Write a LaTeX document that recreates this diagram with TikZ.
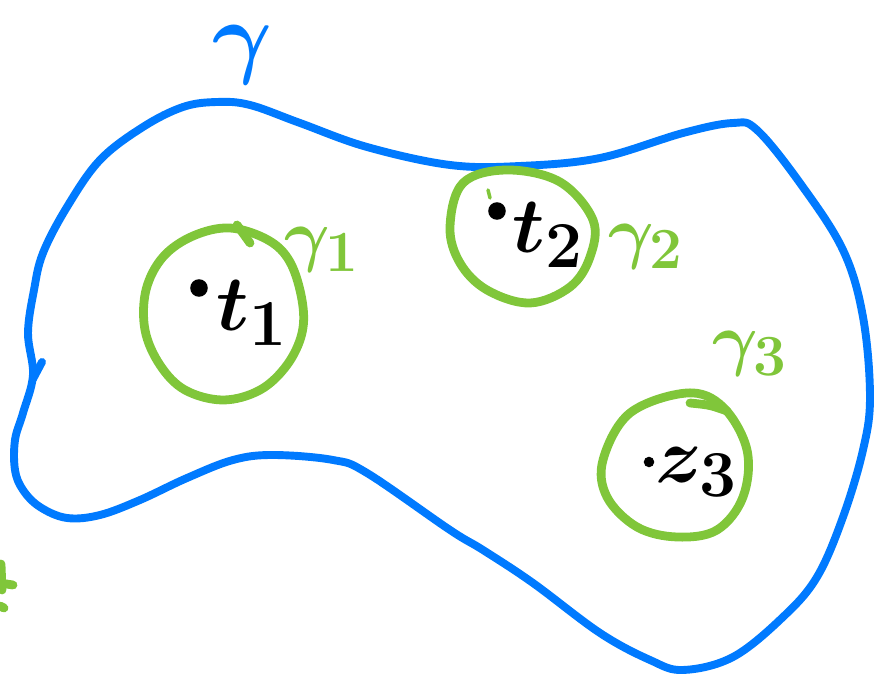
\documentclass[tikz,border=0pt]{standalone}
\usepackage{amsmath, amssymb}
\usepackage{tikz}
\usepackage{xcolor}
\usetikzlibrary{arrows.meta, positioning, calc}
\definecolor{penblue}{RGB}{0,122,255}
\definecolor{pengreen}{RGB}{128,198,58}

\begin{document}
\begin{tikzpicture}[x=0.02cm, y=-0.02cm,
    blueline/.style={draw=penblue, line width=4.5pt,
                     line cap=round, line join=round},
    greenline/.style={draw=pengreen, line width=5pt,
                      line cap=round, line join=round},
    lbl/.style={inner sep=0pt, font=\Huge},
    pt/.style={circle, fill=black, inner sep=0pt,
               minimum size=10pt}
]
    \useasboundingbox (0,0) rectangle (876,678);

    % outer contour
    \draw[blueline] plot[smooth cycle, tension=0.6] coordinates {
        (33,375) (28,333) (34,290) (43,253) (67,207) (100,160)
        (143,127) (183,107) (217,102) (250,105) (300,123)
        (367,147) (450,165) (520,166) (600,158) (683,133)
        (733,123) (757,130) (800,183) (843,250) (863,317)
        (870,397) (863,450) (843,517) (817,577) (783,617)
        (733,657) (683,670) (650,660) (600,633) (533,583)
        (483,550) (450,530) (367,473) (333,460) (273,455)
        (233,460) (187,478) (140,500) (100,515) (67,518)
        (40,507) (23,490) (15,470) (15,440) (23,413)};
    \coordinate (tickA) at (33,379);
    \coordinate (tickB) at (42,362);
    \draw[blueline] (tickA) -- (tickB);

    % small circles
    \draw[greenline] plot[smooth cycle, tension=0.6] coordinates {
        (230,228) (268,240) (290,262) (302,300) (302,333)
        (287,365) (260,390) (223,400) (185,390) (160,365)
        (145,330) (146,290) (163,257) (193,236)};
    \draw[greenline] (237,225) -- (250,243);

    \draw[greenline] plot[smooth cycle, tension=0.6] coordinates {
        (463,183) (507,170) (560,182) (593,220) (590,257)
        (570,287) (530,303) (487,290) (460,263) (450,227)};
    \draw[greenline, line width=2pt] (488,190) -- (490,198);

    \draw[greenline] plot[smooth cycle, tension=0.6] coordinates {
        (687,393) (723,407) (747,450) (743,497) (717,530)
        (677,537) (637,527) (607,497) (603,460) (630,413)};
    \draw[greenline] (690,403) .. controls (710,405) .. (727,411);

    % points
    \node[pt] (p1) at (199,288) {};
    \node[pt] (p2) at (497,211) {};
    \node[pt, minimum size=6pt] (p3) at (649,462) {};

    \node[lbl, scale=1.8] (t1) at (252,313) {$\boldsymbol{t_1}$};
    \node[lbl, scale=1.8] (t2) at (548,235) {$\boldsymbol{t_2}$};
    \node[lbl, scale=1.8] (z3) at (697,472) {$\boldsymbol{z_3}$};

    % labels
    \node[lbl, scale=2.1, text=penblue] (gam) at (243,55)
        {$\boldsymbol{\gamma}$};
    \node[lbl, scale=1.6, text=pengreen] (gam1) at (322,250)
        {$\boldsymbol{\gamma_1}$};
    \node[lbl, scale=1.6, text=pengreen] (gam2) at (646,247)
        {$\boldsymbol{\gamma_2}$};
    \node[lbl, scale=1.6, text=pengreen] (gam3) at (750,354)
        {$\boldsymbol{\gamma_3}$};

    % cut-off mark at the left edge
    \draw[greenline] (1,564) -- (2,590);
    \draw[greenline] (0,583) -- (13,585);
    \draw[greenline] (0,606) -- (4,608);
\end{tikzpicture}
\end{document}
